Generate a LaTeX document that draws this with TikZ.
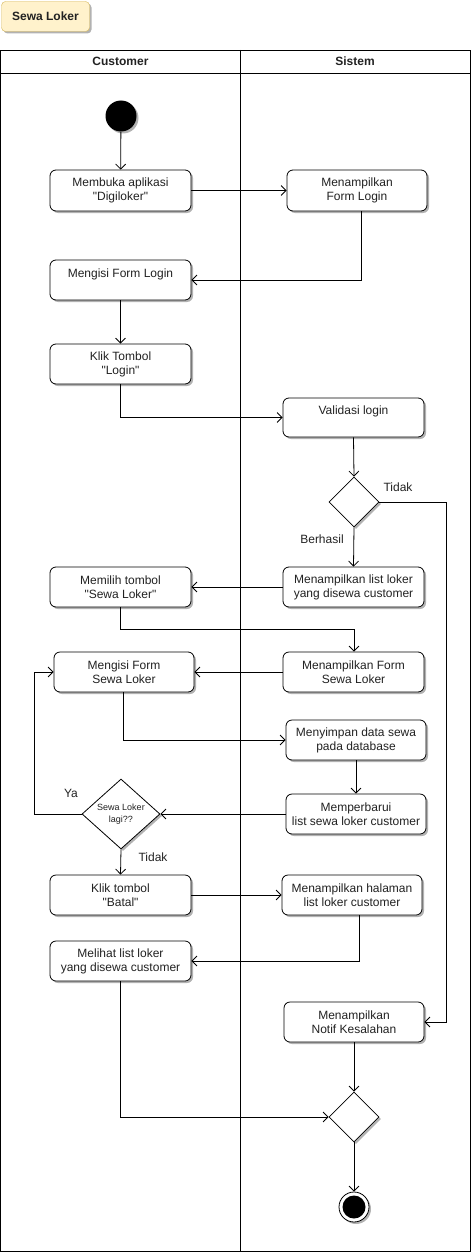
\documentclass[tikz,border=0pt]{standalone}
\usepackage{fontspec}
\setmainfont{Liberation Sans}
\usetikzlibrary{arrows.meta,shapes.geometric,shadows}
\definecolor{txt}{HTML}{222222}
\definecolor{notefill}{HTML}{FFF2CC}
\definecolor{notedraw}{HTML}{D6B656}
\newcommand{\qq}{\textquotedbl}
\tikzset{
  shad/.style={drop shadow={shadow xshift=2pt,shadow yshift=-2pt,opacity=0.3,fill=black}},
  actbox/.style={draw=black,line width=0.8pt,rounded corners=6pt,fill=white,shad,
     minimum width=141pt,minimum height=40pt,inner sep=0pt,align=center,
     font=\fontsize{12}{14}\selectfont,text=txt},
  decis/.style={draw=black,line width=0.8pt,diamond,fill=white,shad,inner sep=0pt},
  arr/.style={draw=black,line width=0.8pt,-{Straight Barb[length=5pt,width=10pt]}},
  lbl/.style={font=\fontsize{12}{14}\selectfont,text=txt,inner sep=0pt},
  lane/.style={draw=black,line width=0.9pt},
}
\begin{document}
\begin{tikzpicture}[x=1pt,y=-1pt]
\useasboundingbox (0,0) rectangle (471,1252);
% title
\node[draw=notedraw,fill=notefill,rounded corners=4pt,shad,minimum width=88pt,minimum height=30pt,
      font=\bfseries\fontsize{12}{14}\selectfont,text=txt] (title) at (45.5,16.5) {Sewa Loker};
% swimlanes
\draw[lane] (0.5,50) rectangle (470.5,1251);
\draw[lane] (0.5,73) -- (470.5,73);
\draw[lane] (240,50) -- (240,1251);
\node[lbl,font=\bfseries\fontsize{12}{14}\selectfont] (hcust) at (120.5,61.5) {Customer};
\node[lbl,font=\bfseries\fontsize{12}{14}\selectfont] (hsys) at (355,61.5) {Sistem};
% initial
\node[circle,fill=black,minimum size=31pt,inner sep=0pt,shad] (init) at (121,116) {};
% activities
\node[actbox,minimum height=41pt] (a1) at (120.5,190.5) {Membuka aplikasi\\\qq Digiloker\qq};
\node[actbox,minimum width=140pt,minimum height=41pt] (s1) at (357,190.5) {Menampilkan\\Form Login};
\node[actbox] (a2) at (120.5,280) {Mengisi Form Login\\\mbox{}};
\node[actbox] (a3) at (120.5,364) {Klik Tombol\\\qq Login\qq};
\node[actbox,minimum height=39pt] (s2) at (353.5,417.5) {Validasi login\\\mbox{}};
\node[decis,minimum width=50pt,minimum height=50pt] (d1) at (354,502) {};
\node[actbox] (s3) at (353.5,587) {Menampilkan list loker\\yang disewa customer};
\node[actbox] (a4) at (120.5,587) {Memilih tombol\\\qq Sewa Loker\qq};
\node[actbox,minimum width=140pt] (a5) at (124,672) {Mengisi Form\\Sewa Loker};
\node[actbox] (s4) at (353.5,672) {Menampilkan Form\\Sewa Loker};
\node[actbox,minimum width=140pt] (s5) at (356,740) {Menyimpan data sewa\\pada database};
\node[actbox,minimum width=140pt] (s6) at (356,814) {Memperbarui\\list sewa loker customer};
\node[decis,minimum width=78pt,minimum height=70pt] (d2) at (121,814) {};
\node[lbl,align=center,font=\fontsize{9}{12}\selectfont] (d2t) at (121,814) {Sewa Loker\\lagi??};
\node[actbox] (a6) at (120.5,895) {Klik tombol\\\qq Batal\qq};
\node[actbox,minimum width=140pt] (s7) at (352,895) {Menampilkan halaman\\list loker customer};
\node[actbox] (a7) at (120.5,961) {Melihat list loker\\yang disewa customer};
\node[actbox,minimum width=140pt] (s8) at (354,1022) {Menampilkan\\Notif Kesalahan};
\node[decis,minimum width=50pt,minimum height=50pt] (d3) at (354,1117) {};
\node[circle,draw=black,line width=0.8pt,fill=white,minimum size=30pt,inner sep=0pt,shad] (fin) at (354,1207) {};
\node[circle,fill=black,minimum size=23pt,inner sep=0pt] (fini) at (354,1207) {};
% coordinates
\coordinate (c1) at (446,502);
\coordinate (c2) at (120.5,629);
\coordinate (c3) at (34,814);
% connectors
\draw[arr] (init) -- (a1);
\draw[arr] (a1) -- (s1);
\draw[arr] ([xshift=4.5pt]s1.south) |- (a2.east);
\draw[arr] (a2) -- (a3);
\draw[arr] (a3.south) |- (s2.west);
\draw[arr] (s2.south) -- (d1.north);
\draw[arr] (d1.east) -- (c1) |- (s8.east);
\draw[arr] (d1.south) -- (s3.north);
\draw[arr] (s3.west) -- (a4.east);
\draw[arr] (a4.south) -- (c2) -| ([xshift=0.5pt]s4.north);
\draw[arr] (s4.west) -- (a5.east);
\draw[arr] ([xshift=-1pt]a5.south) |- (s5.west);
\draw[arr] (s5.south) -- (s6.north);
\draw[arr] (s6.west) -- (d2.east);
\draw[arr] (d2.west) -- (c3) |- (a5.west);
\draw[arr] (d2.south) -- (a6.north);
\draw[arr] (a6.east) -- (s7.west);
\draw[arr] ([xshift=7pt]s7.south) |- (a7.east);
\draw[arr] (a7.south) |- (d3.west);
\draw[arr] (s8.south) -- (d3.north);
\draw[arr] (d3.south) -- (fin.north);
% labels
\node[lbl] (ltidak1) at (398,487) {Tidak};
\node[lbl] (lberhasil) at (322,539) {Berhasil};
\node[lbl] (lya) at (71,793) {Ya};
\node[lbl] (ltidak2) at (153,857) {Tidak};
\end{tikzpicture}
\end{document}
